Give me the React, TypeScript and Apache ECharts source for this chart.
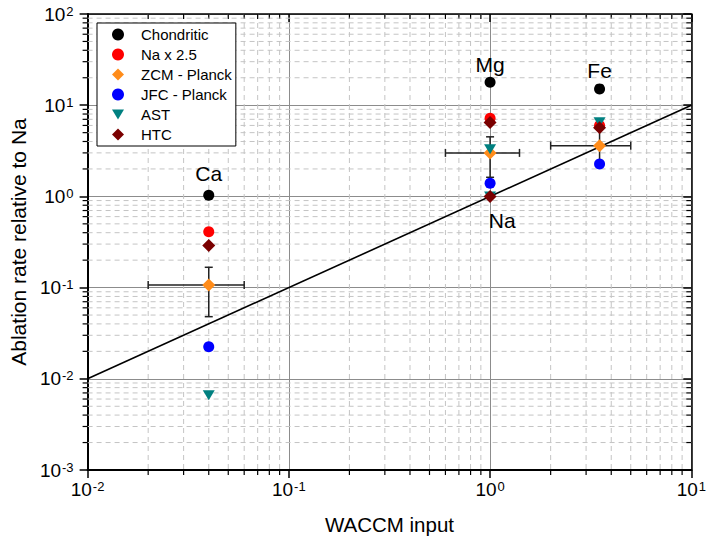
import React, { useEffect, useRef } from "react";
import * as echarts from "echarts";

// ---- data ----
const elementNames = ["Ca", "Mg", "Fe"];
const waccmInput = [0.04, 1, 3.5];
const chondritic = [1.03, 17.8, 15.1];
const naX25 = [0.41, 7.2, 6.0];
const zcmPlanck = [0.107, 3.0, 3.6];
const jfcPlanck = [0.0225, 1.39, 2.27];
const astValues = [0.0066, 3.28, 6.5];
const htcValues = [0.29, 6.45, 5.66];

// Na reference (relative to itself)
const naInput = [1];
const naAst = [1.0];
const naHtc = [1.0];

// ZCM error bars
const zcmYLow = [0.048, 1.62, 2.3];
const zcmYHigh = [0.167, 4.5, 6.4];
const zcmXLow = [0.02, 0.6, 2.0];
const zcmXHigh = [0.06, 1.4, 5.0];

// 1:1 line
const oneToOneX = [0.01, 10];
const oneToOneY = [0.01, 10];

// annotation labels
const labelNames = ["Ca", "Mg", "Fe", "Na"];
const labelX = [0.04, 1, 3.5, 1.15];
const labelY = [1.8, 27.6, 23.9, 0.55];

// minor tick multipliers and decades
const minorMultipliers = [2, 3, 4, 5, 6, 7, 8, 9];
const xDecades = [-2, -1, 0];
const yDecades = [-3, -2, -1, 0, 1];

const FONT = "Liberation Sans, Arial, sans-serif";

const seriesNames = ["Chondritic", "Na x 2.5", "ZCM - Planck", "JFC - Planck", "AST", "HTC"];
const seriesColors = ["#000000", "#ff0000", "#ff8c1a", "#0000ff", "#008080", "#7a0000"];
const triDown = "path://M0,0L12,0L6,10Z";

export default function App() {
  const ref = useRef<HTMLDivElement>(null);
  useEffect(() => {
    if (!ref.current) return;
    const chart = echarts.init(ref.current, undefined, { renderer: "svg" });

    const minorX: number[] = [];
    xDecades.forEach((d) => minorMultipliers.forEach((m) => minorX.push(m * Math.pow(10, d))));
    const minorY: number[] = [];
    yDecades.forEach((d) => minorMultipliers.forEach((m) => minorY.push(m * Math.pow(10, d))));

    const gridStroke = "#c4c4c4";
    const dash = [5, 4];

    const pts = (ys: number[], xs: number[] = waccmInput) => ys.map((y, i) => [xs[i], y]);

    const labelFmt = (v: number) => {
      const e = Math.round(Math.log10(v));
      return `{b|10}{s|${e}}`;
    };
    const rich = {
      b: { fontSize: 19, fontFamily: FONT, color: "#000" },
      s: { fontSize: 13, fontFamily: FONT, color: "#000", verticalAlign: "top", padding: [0, 0, 0, 1] },
    };

    const option: any = {
      animation: false,
      backgroundColor: "#fff",
      grid: { left: 81, right: 13, top: 14, bottom: 77, containLabel: false },
      legend: {
        orient: "vertical",
        left: 97,
        top: 23,
        padding: [4, 4, 4, 15],
        itemGap: 5,
        itemWidth: 12,
        itemHeight: 12,
        borderColor: "#000",
        borderWidth: 1,
        backgroundColor: "#fff",
        textStyle: { fontSize: 15, fontFamily: FONT, color: "#000", lineHeight: 14, padding: [0, 0, 0, 12] },
        data: [
          { name: seriesNames[0], icon: "circle" },
          { name: seriesNames[1], icon: "circle" },
          { name: seriesNames[2], icon: "diamond" },
          { name: seriesNames[3], icon: "circle" },
          { name: seriesNames[4], icon: triDown },
          { name: seriesNames[5], icon: "diamond" },
        ],
        selectedMode: false,
        z: 10,
      },
      xAxis: [
        {
          type: "log",
          logBase: 10,
          min: 0.01,
          max: 10,
          position: "bottom",
          name: "WACCM input",
          nameLocation: "middle",
          nameGap: 44,
          nameTextStyle: { fontSize: 20.5, fontFamily: FONT, color: "#000" },
          axisLine: { show: true, lineStyle: { color: "#000", width: 2 } },
          axisTick: { show: true, inside: false, length: 8, lineStyle: { color: "#000", width: 1.5 } },
          axisLabel: { formatter: labelFmt, rich, margin: 10 },
          splitLine: { show: true, lineStyle: { color: "#8c8c8c", width: 1 } },
          minorTick: { show: false },
        },
        {
          type: "log",
          logBase: 10,
          min: 0.01,
          max: 10,
          position: "top",
          axisLine: { show: true, lineStyle: { color: "#000", width: 1.5 } },
          axisTick: { show: true, inside: true, length: 8, lineStyle: { color: "#000", width: 1.5 } },
          axisLabel: { show: false },
          splitLine: { show: false },
        },
      ],
      yAxis: [
        {
          type: "log",
          logBase: 10,
          min: 0.001,
          max: 100,
          position: "left",
          name: "Ablation rate relative to Na",
          nameLocation: "middle",
          nameGap: 43,
          nameTextStyle: { fontSize: 21, fontFamily: FONT, color: "#000" },
          axisLine: { show: true, lineStyle: { color: "#000", width: 2 } },
          axisTick: { show: true, inside: false, length: 8, lineStyle: { color: "#000", width: 1.5 } },
          axisLabel: { formatter: labelFmt, rich, margin: 14 },
          splitLine: { show: true, lineStyle: { color: "#8c8c8c", width: 1 } },
        },
        {
          type: "log",
          logBase: 10,
          min: 0.001,
          max: 100,
          position: "right",
          axisLine: { show: true, lineStyle: { color: "#000", width: 1.5 } },
          axisTick: { show: true, inside: true, length: 8, lineStyle: { color: "#000", width: 1.5 } },
          axisLabel: { show: false },
          splitLine: { show: false },
        },
      ],
      series: [
        {
          name: "minorX",
          type: "custom",
          xAxisIndex: 0,
          yAxisIndex: 0,
          z: 1,
          silent: true,
          data: minorX.map((v) => [v, 1]),
          renderItem: (params: any, api: any) => {
            const cs = params.coordSys;
            const px = api.coord([api.value(0), 1])[0];
            const bottom = cs.y + cs.height;
            return {
              type: "group",
              children: [
                { type: "line", shape: { x1: px, y1: cs.y, x2: px, y2: bottom }, style: { stroke: gridStroke, lineWidth: 1, lineDash: dash } },
                { type: "line", shape: { x1: px, y1: bottom, x2: px, y2: bottom + 5 }, style: { stroke: "#000", lineWidth: 1.2 } },
                { type: "line", shape: { x1: px, y1: cs.y, x2: px, y2: cs.y + 5 }, style: { stroke: "#000", lineWidth: 1.2 } },
              ],
            };
          },
        },
        {
          name: "minorY",
          type: "custom",
          xAxisIndex: 0,
          yAxisIndex: 0,
          z: 1,
          silent: true,
          data: minorY.map((v) => [1, v]),
          renderItem: (params: any, api: any) => {
            const cs = params.coordSys;
            const py = api.coord([1, api.value(1)])[1];
            const right = cs.x + cs.width;
            return {
              type: "group",
              children: [
                { type: "line", shape: { x1: cs.x, y1: py, x2: right, y2: py }, style: { stroke: gridStroke, lineWidth: 1, lineDash: dash } },
                { type: "line", shape: { x1: cs.x - 5, y1: py, x2: cs.x, y2: py }, style: { stroke: "#000", lineWidth: 1.2 } },
                { type: "line", shape: { x1: right - 5, y1: py, x2: right, y2: py }, style: { stroke: "#000", lineWidth: 1.2 } },
              ],
            };
          },
        },
        {
          name: "1:1",
          type: "line",
          z: 2,
          silent: true,
          showSymbol: false,
          symbol: "none",
          lineStyle: { color: "#000", width: 1.6 },
          data: oneToOneX.map((x, i) => [x, oneToOneY[i]]),
        },
        {
          name: "errorbars",
          type: "custom",
          z: 3,
          silent: true,
          data: waccmInput.map((x, i) => [x, zcmPlanck[i], zcmXLow[i], zcmXHigh[i], zcmYLow[i], zcmYHigh[i]]),
          renderItem: (params: any, api: any) => {
            const x = api.value(0), y = api.value(1);
            const c = api.coord([x, y]);
            const xl = api.coord([api.value(2), y])[0];
            const xh = api.coord([api.value(3), y])[0];
            const yl = api.coord([x, api.value(4)])[1];
            const yh = api.coord([x, api.value(5)])[1];
            const st = { stroke: "#222", lineWidth: 1.5 };
            const cap = 4;
            return {
              type: "group",
              children: [
                { type: "line", shape: { x1: xl, y1: c[1], x2: xh, y2: c[1] }, style: st },
                { type: "line", shape: { x1: xl, y1: c[1] - cap, x2: xl, y2: c[1] + cap }, style: st },
                { type: "line", shape: { x1: xh, y1: c[1] - cap, x2: xh, y2: c[1] + cap }, style: st },
                { type: "line", shape: { x1: c[0], y1: yl, x2: c[0], y2: yh }, style: st },
                { type: "line", shape: { x1: c[0] - cap, y1: yl, x2: c[0] + cap, y2: yl }, style: st },
                { type: "line", shape: { x1: c[0] - cap, y1: yh, x2: c[0] + cap, y2: yh }, style: st },
              ],
            };
          },
        },
        {
          name: seriesNames[0], type: "scatter", z: 4, symbol: "circle", symbolSize: 11,
          itemStyle: { color: seriesColors[0], opacity: 1 }, data: pts(chondritic),
        },
        {
          name: seriesNames[1], type: "scatter", z: 4, symbol: "circle", symbolSize: 11,
          itemStyle: { color: seriesColors[1], opacity: 1 }, data: pts(naX25),
        },
        {
          name: seriesNames[2], type: "scatter", z: 4, symbol: "diamond", symbolSize: 13,
          itemStyle: { color: seriesColors[2], opacity: 1 }, data: pts(zcmPlanck),
        },
        {
          name: seriesNames[3], type: "scatter", z: 4, symbol: "circle", symbolSize: 11,
          itemStyle: { color: seriesColors[3], opacity: 1 }, data: pts(jfcPlanck),
        },
        {
          name: seriesNames[4], type: "scatter", z: 4, symbol: triDown, symbolSize: [12, 10],
          itemStyle: { color: seriesColors[4], opacity: 1 },
          data: [...pts(astValues), ...pts(naAst, naInput)],
        },
        {
          name: seriesNames[5], type: "scatter", z: 4, symbol: "diamond", symbolSize: 13,
          itemStyle: { color: seriesColors[5], opacity: 1 },
          data: [...pts(htcValues), ...pts(naHtc, naInput)],
        },
        {
          name: "labels",
          type: "scatter",
          z: 5,
          silent: true,
          symbolSize: 0,
          itemStyle: { color: "#000", opacity: 1 },
          label: {
            show: true,
            position: "inside",
            formatter: (p: any) => p.data.name,
            fontSize: 21,
            fontFamily: FONT,
            color: "#000",
            opacity: 1,
          },
          data: labelNames.map((n, i) => ({ name: n, value: [labelX[i], labelY[i]] })),
        },
      ],
    };
    chart.setOption(option);
    return () => chart.dispose();
  }, []);
  return <div ref={ref} style={{ position: "fixed", left: 0, top: 0, width: 709, height: 547 }} />;
}
